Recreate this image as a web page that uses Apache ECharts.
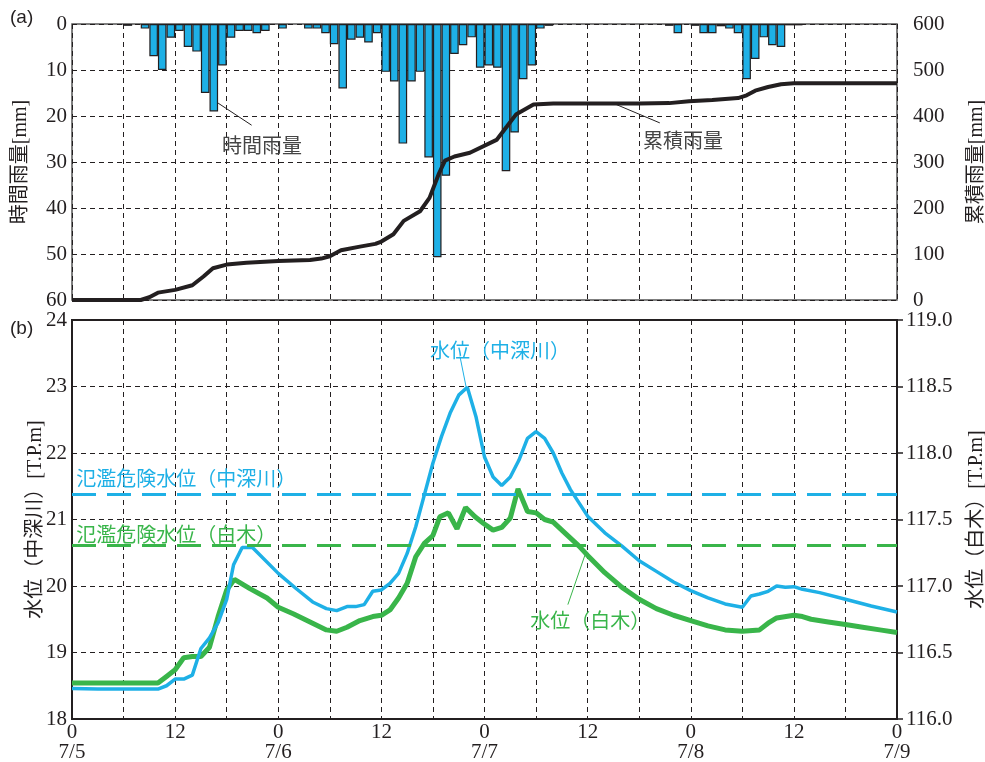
<!DOCTYPE html>
<html>
<head>
<meta charset="utf-8">
<script src="https://cdn.jsdelivr.net/npm/echarts@6/dist/echarts.min.js"></script>
<style>
    html, body {margin: 0; background: #fff;}
    #chart {width: 985px; height: 762px;}
</style>
</head>
<body>
<div id="chart"></div>
<script>
// hourly rainfall [mm], one value per hour starting 7/5 0:00
const rainHourly = [
    0, 0, 0, 0, 0, 0, 0.4, 0, 1, 7, 10, 3, 1.5, 5, 6, 15, 19, 9, 3, 1.5, 1.5, 2, 1.5, 0,
    1, 0, 0, 1, 1, 2, 4.4, 14, 3.4, 3, 4, 2, 10.4, 12.5, 26, 12.5, 10.4, 29, 50.7, 33, 6.5, 4.6, 2.9, 9.5,
    9, 9.5, 32, 23.6, 12, 9, 1, 0.4, 0, 0, 0, 0, 0, 0, 0, 0, 0, 0, 0, 0, 0, 0.4, 2, 0,
    0.4, 2, 2, 0.5, 1, 2, 12, 7.6, 2.9, 4.6, 5, 0.3, 0.3, 0, 0, 0, 0, 0, 0, 0, 0, 0, 0, 0
];

// cumulative rainfall [mm] (hours since 7/5 0:00)
const cumHours = [0, 8, 9, 10, 12, 14, 15.3, 16.4, 18, 20.3, 24, 27.7, 29, 30, 31.3, 33.5, 35.3, 36, 37.4, 38.6,
    40.5, 41.6, 42.7, 43.4, 44.5, 46.3, 49.4, 50.6, 51.7, 53.7, 56, 66, 69.5, 71.8, 74.5, 77.5, 78.5, 79.5, 81, 82.5, 84, 96];
const cumRain = [0, 0, 6, 16, 22, 32, 51, 69, 77, 81, 85, 87, 90, 95, 108, 116, 122, 127, 143, 172,
    193, 222, 275, 303, 312, 320, 348, 377, 404, 425, 427, 427, 428, 432, 435, 439, 445, 455, 463, 469, 471, 471];

// water level 中深川 [T.P.m]
const nakaHours = [0, 3, 10, 11, 12, 13, 14, 15, 16, 17, 18, 18.8, 19.8, 21, 24, 26, 28, 29.6, 30.8, 32, 33, 34,
    35, 36, 37, 38, 39, 40, 41, 42, 43, 44, 45, 46, 47, 48, 49, 50, 51, 52, 53, 54, 55, 56, 57, 58, 59, 60,
    62, 64, 66, 68, 70, 72, 74, 76, 78, 79, 80, 81, 82, 83, 84, 85, 87, 90, 93, 96];
const nakaLevel = [18.46, 18.45, 18.45, 18.5, 18.6, 18.6, 18.66, 19.06, 19.22, 19.45, 19.8, 20.32, 20.58, 20.58,
    20.19, 19.97, 19.76, 19.66, 19.63, 19.69, 19.69, 19.72, 19.92, 19.94, 20.04, 20.19, 20.49, 20.89, 21.37,
    21.85, 22.25, 22.6, 22.87, 22.99, 22.55, 21.94, 21.64, 21.51, 21.64, 21.89, 22.22, 22.32, 22.22, 22.0,
    21.7, 21.45, 21.25, 21.05, 20.8, 20.6, 20.38, 20.22, 20.06, 19.93, 19.82, 19.73, 19.68, 19.85, 19.88,
    19.92, 20.0, 19.98, 19.99, 19.95, 19.9, 19.8, 19.7, 19.61];

// water level 白木 [T.P.m]
const shirakiHours = [0, 10, 11, 12, 13, 14, 15, 16, 17, 18, 18.9, 20.7, 22.7, 24, 25.8, 27.7, 29.6, 30.8, 32,
    33.5, 35, 36, 37, 38, 39, 40, 41, 42, 42.8, 43.8, 44.8, 45.8, 46.9, 47.9, 49, 50, 51, 51.9, 53, 54, 55, 56,
    57, 58, 59, 60, 62, 64, 66, 68, 70, 72, 74, 76, 78, 80, 81, 82, 84, 85, 86, 88, 90, 92, 94, 96];
const shirakiLevel = [116.27, 116.27, 116.32, 116.37, 116.46, 116.47, 116.47, 116.54, 116.77, 116.97, 117.05,
    116.98, 116.91, 116.84, 116.79, 116.73, 116.67, 116.66, 116.69, 116.74, 116.77, 116.78, 116.82, 116.91,
    117.02, 117.22, 117.32, 117.38, 117.52, 117.55, 117.43, 117.59, 117.52, 117.47, 117.42, 117.44, 117.51,
    117.73, 117.56, 117.55, 117.5, 117.48, 117.42, 117.36, 117.3, 117.23, 117.1, 116.99, 116.9, 116.83,
    116.78, 116.74, 116.7, 116.67, 116.66, 116.67, 116.72, 116.76, 116.78, 116.77, 116.75, 116.73, 116.71,
    116.69, 116.67, 116.65];

// flood danger levels
const dangerNaka = 21.38;
const dangerShiraki = 117.31;

const dateLabels = ['7/5', '7/6', '7/7', '7/8', '7/9'];

const BLUE = '#1eb0e6';
const GREEN = '#39b54a';
const INK = '#231f20';
const NUM_FONT = 'Liberation Serif';
const JP_FONT = '"Liberation Serif", "Noto Sans CJK JP"';

let zip = (xs, ys) => xs.map((x, i) => [x, ys[i]]);

// text note placed in data coordinates
let note = (text, x, y, color, left) => ({
    name: text,
    coord: [x, y],
    symbol: 'circle',
    symbolSize: 0,
    label: {
        show: true,
        formatter: '{b}',
        position: left ? 'right' : 'inside',
        distance: 0,
        color: color,
        fontSize: 20,
        fontFamily: 'Noto Sans CJK JP'
    }
});

let leader = (x1, y1, x2, y2, color) => [
    {coord: [x1, y1], lineStyle: {color: color, width: 1, type: 'solid'}},
    {coord: [x2, y2]}
];

let myChart = echarts.init(document.getElementById('chart'));

let gridLine = {lineStyle: {type: [5, 4], color: INK, width: 1}};
let numLabel = {fontFamily: NUM_FONT, fontSize: 21, color: INK};
let axisName = {fontFamily: JP_FONT, fontSize: 20, color: INK};

let option = {
    animation: false,
    graphic: [
        {type: 'text', left: 10, top: 8, style: {text: '(a)', font: '19px "Liberation Sans"', fill: INK}},
        {type: 'text', left: 10, top: 319, style: {text: '(b)', font: '19px "Liberation Sans"', fill: INK}}
    ],
    grid: [
        {
            left: 72, right: 88, top: 24, height: 276, show: true, borderColor: '#555', borderWidth: 1.5,
            containLabel: false, outerBoundsMode: 'none'
        },
        {
            left: 72, right: 88, top: 320, bottom: 43, show: true, borderColor: INK, borderWidth: 2,
            containLabel: false, outerBoundsMode: 'none'
        }
    ],
    xAxis: [
        {
            type: 'value', gridIndex: 0, min: 0, max: 96, interval: 6,
            axisLine: {show: false}, axisTick: {show: false}, axisLabel: {show: false},
            splitLine: gridLine
        },
        {
            type: 'value', gridIndex: 1, min: 0, max: 96, interval: 6,
            axisLine: {show: false}, axisTick: {show: false},
            axisLabel: {
                ...numLabel,
                margin: 3,
                lineHeight: 20,
                verticalAlign: 'top',
                formatter: function (v)
                {
                    if (v % 24 === 0) return '0\n' + dateLabels[v / 24];
                    if (v % 12 === 0) return '12';
                    return '';
                }
            },
            splitLine: gridLine
        }
    ],
    yAxis: [
        {
            type: 'value', gridIndex: 0, min: 0, max: 60, interval: 10, inverse: true, position: 'left',
            name: '時間雨量[mm]', nameLocation: 'middle', nameRotate: 90, nameGap: 41, nameMoveOverlap: false,
            nameTextStyle: axisName,
            axisLine: {show: false}, axisTick: {show: false},
            axisLabel: {...numLabel, margin: 5},
            splitLine: gridLine
        },
        {
            type: 'value', gridIndex: 0, min: 0, max: 600, interval: 100, position: 'right',
            name: '累積雨量[mm]', nameLocation: 'middle', nameRotate: 90, nameGap: 70, nameMoveOverlap: false,
            nameTextStyle: axisName,
            axisLine: {show: false}, axisTick: {show: false},
            axisLabel: {...numLabel, margin: 16},
            splitLine: {show: false}
        },
        {
            type: 'value', gridIndex: 1, min: 18, max: 24, interval: 1, position: 'left',
            name: '水位（中深川）[T.P.m]', nameLocation: 'middle', nameRotate: 90, nameGap: 26, nameMoveOverlap: false,
            nameTextStyle: axisName,
            axisLine: {show: false}, axisTick: {show: false},
            axisLabel: {...numLabel, margin: 5},
            splitLine: gridLine
        },
        {
            type: 'value', gridIndex: 1, min: 116, max: 119, interval: 0.5, position: 'right',
            name: '水位（白木）[T.P.m]', nameLocation: 'middle', nameRotate: 90, nameGap: 70, nameMoveOverlap: false,
            nameTextStyle: axisName,
            axisLine: {show: false},
            axisTick: {show: true, inside: false, length: 6, lineStyle: {color: INK, width: 1.5}},
            axisLabel: {...numLabel, margin: 9, formatter: (v) => v.toFixed(1)},
            splitLine: {show: false}
        }
    ],
    series: [
        {
            name: '時間雨量',
            type: 'bar',
            xAxisIndex: 0, yAxisIndex: 0,
            barWidth: 8.6,
            data: rainHourly.map((v, i) => [i + 0.5, v]).filter((d) => d[1] > 0),
            itemStyle: {color: BLUE, borderColor: INK, borderWidth: 1.2},
            markLine: {
                silent: true, symbol: ['none', 'none'], label: {show: false},
                data: [
                    leader(17.0, 17.2, 20.9, 22, INK),
                    leader(63.2, 17.4, 68.4, 21.5, INK)
                ]
            },
            markPoint: {
                silent: true,
                data: [
                    note('時間雨量', 22.1, 26.3, '#444'),
                    note('累積雨量', 71.1, 25.2, '#444')
                ]
            }
        },
        {
            name: '累積雨量',
            type: 'line',
            xAxisIndex: 0, yAxisIndex: 1,
            data: zip(cumHours, cumRain),
            symbol: 'none',
            lineStyle: {color: INK, width: 4}
        },
        {
            name: '水位（白木）',
            type: 'line',
            xAxisIndex: 1, yAxisIndex: 3,
            data: zip(shirakiHours, shirakiLevel),
            symbol: 'none',
            lineStyle: {color: GREEN, width: 5},
            markLine: {
                silent: true, symbol: ['none', 'none'], label: {show: false},
                lineStyle: {color: GREEN, width: 3, type: [24, 11]},
                data: [{yAxis: dangerShiraki}]
            }
        },
        {
            name: '水位（中深川）',
            type: 'line',
            xAxisIndex: 1, yAxisIndex: 2,
            data: zip(nakaHours, nakaLevel),
            symbol: 'none',
            lineStyle: {color: BLUE, width: 3.5},
            markLine: {
                silent: true, symbol: ['none', 'none'], label: {show: false},
                lineStyle: {color: BLUE, width: 3, type: [24, 11]},
                data: [
                    {yAxis: dangerNaka},
                    leader(45.85, 23.0, 45.15, 23.45, BLUE),
                    leader(59.7, 20.47, 57.7, 19.72, GREEN)
                ]
            },
            markPoint: {
                silent: true,
                data: [
                    note('水位（中深川）', 49.8, 23.55, BLUE),
                    note('水位（白木）', 60.3, 19.49, GREEN),
                    note('氾濫危険水位（中深川）', 0.5, 21.62, BLUE, true),
                    note('氾濫危険水位（白木）', 0.5, 20.77, GREEN, true)
                ]
            }
        }
    ]
};

myChart.setOption(option);
</script>
</body>
</html>
